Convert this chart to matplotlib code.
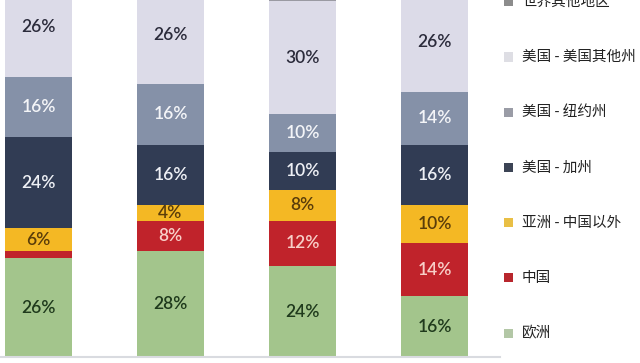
import matplotlib
matplotlib.use("Agg")
import matplotlib.pyplot as plt
from matplotlib.patches import Rectangle
import numpy as np

plt.rcParams['font.family'] = ['Noto Sans CJK SC', 'DejaVu Sans']

# Stacking order, bottom to top
regions = ["欧洲", "中国", "亚洲 - 中国以外", "美国 - 加州",
           "美国 - 纽约州", "美国 - 美国其他州", "世界其他地区"]
europe      = [26, 28, 24, 16]
china       = [2, 8, 12, 14]
asia_ex_cn  = [6, 4, 8, 10]
us_ca       = [24, 16, 10, 16]
us_ny       = [16, 16, 10, 14]
us_other    = [26, 26, 30, 26]
rest_world  = [0, 2, 6, 4]
series = [europe, china, asia_ex_cn, us_ca, us_ny, us_other, rest_world]
labelled = [True, True, True, True, True, True, False]

colors = ["#a3c58c", "#c0232b", "#f4b824", "#313c54",
          "#8591a8", "#dcdbe8", "#9a9aa2"]
text_colors = ["#1f3a1c", "#f8cfc8", "#5a3d0a", "#eef0f5",
               "#f4f5f8", "#2b2b3b", "#2b2b3b"]
legend_colors = ["#b3c7a6", "#b8262d", "#e9bf45", "#3c4455",
                 "#9a9ca6", "#dedee4", "#8c8c8c"]

W, H = 640, 363
fig = plt.figure(figsize=(W / 100, H / 100), dpi=100)
ax = fig.add_axes([0, 6 / H, 500 / W, 357 / H])

x = np.arange(len(europe))
bottom = np.zeros(len(x))
for vals, col, tcol, lab in zip(series, colors, text_colors, labelled):
    vals = np.array(vals, dtype=float)
    ax.bar(x, vals, width=0.508, bottom=bottom, color=col, linewidth=0)
    if lab:
        for xi, v, b in zip(x, vals, bottom):
            if v >= 3:
                ax.text(xi, b + v / 2, f"{int(v)}%", ha="center", va="center",
                        fontsize=12.5, fontweight="semibold", color=tcol,
                        family="Lato", clip_on=True)
    bottom += vals

ax.set_xlim(-0.292, 3.496)
ax.set_ylim(0, 94.2)
ax.set_xticks([])
ax.set_yticks([])
for s in ("top", "left", "right"):
    ax.spines[s].set_visible(False)
ax.spines["bottom"].set_color("#d9dbe0")
ax.spines["bottom"].set_linewidth(1.5)

# Legend, top entry first
pitch = 55.2
for i, (name, lc) in enumerate(zip(regions[::-1], legend_colors[::-1])):
    yc = 1.8 + i * pitch
    fig.add_artist(Rectangle((504 / W, 1 - (yc + 4.5) / H), 9 / W, 9 / H,
                             transform=fig.transFigure, color=lc, lw=0))
    fig.text(522 / W, 1 - yc / H, name, ha="left", va="center",
             fontsize=10.5, color="#222222")

fig.savefig("out.png", dpi=100)
